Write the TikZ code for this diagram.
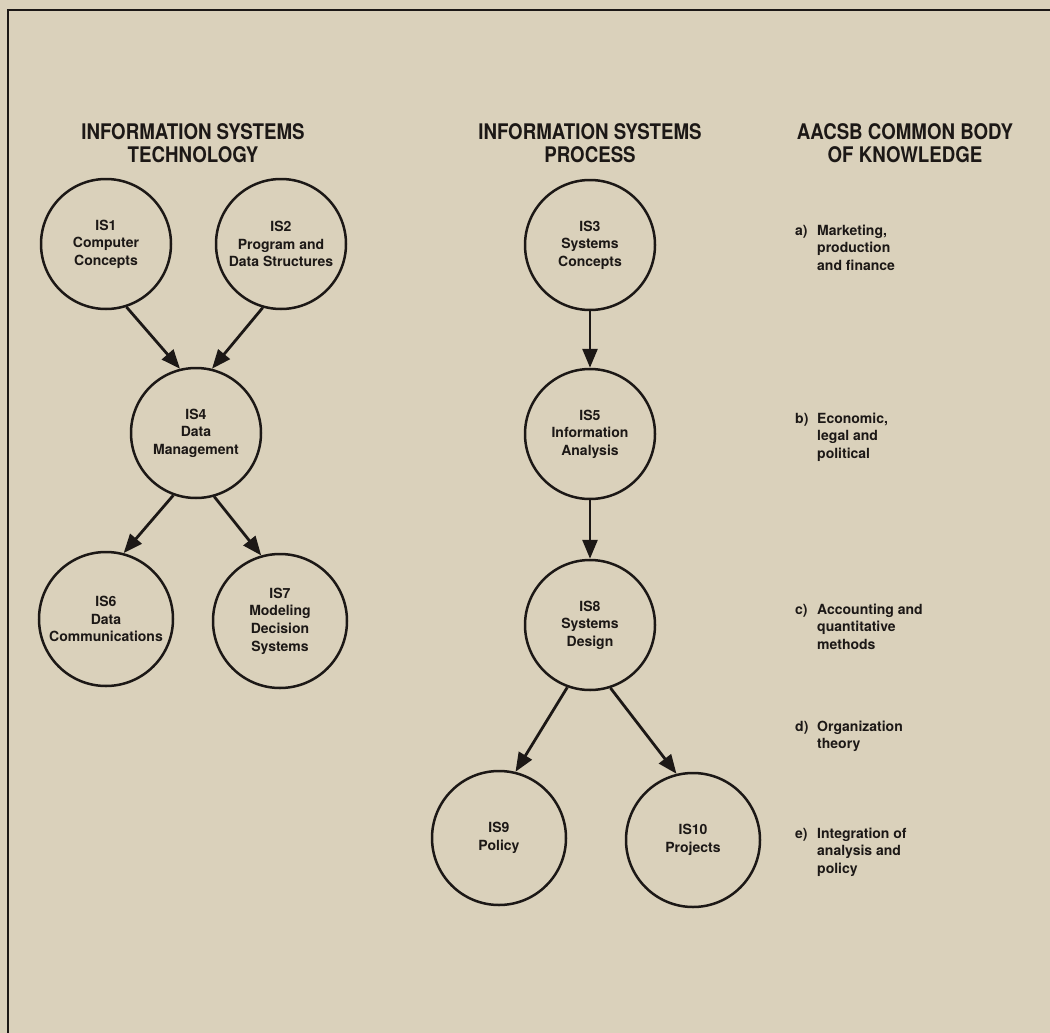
\documentclass[tikz,border=0pt]{standalone}
\usepackage{fontspec}
\setmainfont{TeX Gyre Heros}
\newfontfamily\headfont[FakeStretch=0.87]{TeX Gyre Heros}
\usetikzlibrary{arrows.meta}
\definecolor{paper}{RGB}{218,209,187}
\definecolor{ink}{RGB}{28,24,22}
\begin{document}
\begin{tikzpicture}[x=1pt,y=-1pt,
  course/.style={circle,draw=ink,line width=2.5pt,minimum size=130pt,inner sep=0pt,
    align=center,text=ink,font={\fontsize{14}{17.6}\selectfont\bfseries}},
  bigcourse/.style={course,minimum size=134pt},
  head/.style={align=center,text=ink,font={\headfont\fontsize{21.5}{23}\selectfont\bfseries}},
  item/.style={anchor=base west,inner sep=0pt,text=ink,font={\fontsize{14}{17.5}\selectfont\bfseries}},
  tag/.style={anchor=base west,inner sep=0pt,text=ink,font={\fontsize{14}{17.5}\selectfont\bfseries}},
  flow/.style={draw=ink,line width=2.8pt,-{Triangle[length=19pt,width=15pt]}}]
\useasboundingbox (0,0) rectangle (1050,1033);
\fill[paper] (0,0) rectangle (1050,1033);
% frame
\draw[ink,line width=2.4pt] (8,1033) -- (8,10) -- (1050,10);

% column headings
\node[head] (h1) at (193,143) {INFORMATION SYSTEMS\\TECHNOLOGY};
\node[head] (h2) at (590,143) {INFORMATION SYSTEMS\\PROCESS};
\node[head] (h3) at (905,143) {AACSB COMMON BODY\\OF KNOWLEDGE};

% technology courses
\node[course] (is1) at (106,244) {IS1\\Computer\\Concepts};
\node[course] (is2) at (281,244) {IS2\\Program and\\Data Structures};
\node[course] (is4) at (196,433) {IS4\\Data\\Management};
\node[bigcourse] (is6) at (106,619) {IS6\\Data\\Communications};
\node[bigcourse] (is7) at (280,621) {IS7\\Modeling\\Decision\\Systems};

% process courses
\node[course] (is3) at (590,245) {IS3\\Systems\\Concepts};
\node[course] (is5) at (590,434) {IS5\\Information\\Analysis};
\node[course] (is8) at (590,625) {IS8\\Systems\\Design};
\node[bigcourse] (is9) at (499,838) {IS9\\Policy};
\node[bigcourse] (is10) at (693,840) {IS10\\Projects};

% prerequisites
\draw[flow] (is1.288) -- (is4.104);
\draw[flow] (is2.254) -- (is4.76);
\draw[flow] (is4.250) -- (is6.75);
\draw[flow] (is4.286) -- (is7.106);
\draw[flow] (is3.south) -- (is5.north);
\draw[flow] (is5.south) -- (is8.north);
\draw[flow] (is8.250) -- (is9.76);
\draw[flow] (is8.288) -- (is10.104);

% common body of knowledge
\node[tag] (ta) at (795,235) {a)};
\node[item] (ka) at (817,235) {\begin{tabular}[t]{@{}l@{}}Marketing,\\production\\and finance\end{tabular}};
\node[tag] (tb) at (795,423) {b)};
\node[item] (kb) at (817,423) {\begin{tabular}[t]{@{}l@{}}Economic,\\legal and\\political\end{tabular}};
\node[tag] (tc) at (795,614) {c)};
\node[item] (kc) at (817,614) {\begin{tabular}[t]{@{}l@{}}Accounting and\\quantitative\\methods\end{tabular}};
\node[tag] (td) at (795,731) {d)};
\node[item] (kd) at (817,731) {\begin{tabular}[t]{@{}l@{}}Organization\\theory\end{tabular}};
\node[tag] (te) at (795,838) {e)};
\node[item] (ke) at (817,838) {\begin{tabular}[t]{@{}l@{}}Integration of\\analysis and\\policy\end{tabular}};
\end{tikzpicture}
\end{document}
